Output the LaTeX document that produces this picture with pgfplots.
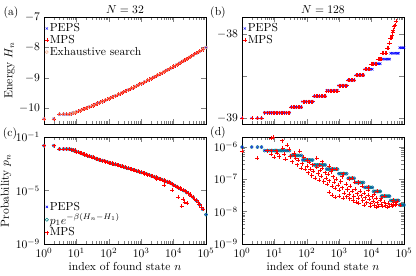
\documentclass[border=0pt]{standalone}
\usepackage{pgfplots}
\pgfplotsset{compat=1.18}
\usepackage{pgfplotstable}
\newlength\px
\setlength\px{0.86pt}
\definecolor{cpeps}{rgb}{0,0,1}
\definecolor{cmps}{rgb}{1,0,0}
\definecolor{cthy}{rgb}{0,0.5,0.5}
\definecolor{cexs}{rgb}{0.95,0.65,0.5}

\pgfplotstableread{
n E p
1 -10.35 2.24e-2
2 -10.35 2.24e-2
3 -10.20 1.26e-2
4 -10.20 1.26e-2
5 -10.20 1.26e-2
6 -10.20 1.26e-2
7 -10.18 1.15e-2
8 -10.15 1.0e-2
9 -10.15 1.0e-2
10 -10.12 7.94e-3
13 -10.08 6.61e-3
16 -10.04 5.37e-3
20 -10.00 4.47e-3
25 -9.955 3.63e-3
32 -9.912 3.02e-3
40 -9.868 2.45e-3
50 -9.824 2.04e-3
63 -9.779 1.70e-3
79 -9.734 1.45e-3
100 -9.688 1.23e-3
126 -9.641 1.05e-3
158 -9.593 8.91e-4
200 -9.545 7.59e-4
251 -9.496 6.31e-4
316 -9.447 5.37e-4
398 -9.397 4.57e-4
501 -9.346 3.80e-4
631 -9.295 3.24e-4
794 -9.243 2.69e-4
1000 -9.190 2.24e-4
1259 -9.137 1.86e-4
1585 -9.083 1.55e-4
1995 -9.029 1.29e-4
2512 -8.973 1.05e-4
3162 -8.917 8.51e-5
3981 -8.861 6.92e-5
5012 -8.804 5.62e-5
6310 -8.746 4.57e-5
7943 -8.688 3.63e-5
10000 -8.628 2.51e-5
12589 -8.569 1.91e-5
15849 -8.508 1.41e-5
19953 -8.447 1.02e-5
25119 -8.386 7.24e-6
31623 -8.323 5.01e-6
39811 -8.261 3.16e-6
50119 -8.197 1.78e-6
63096 -8.133 8.91e-7
79433 -8.069 3.98e-7
100000 -8.002 1.58e-7
}\tabA

\pgfplotstableread{
n E p
1 -10.35 2.24e-2
2 -10.35 2.24e-2
3 -10.20 1.26e-2
4 -10.20 1.26e-2
5 -10.20 1.26e-2
6 -10.20 1.26e-2
7 -10.18 1.15e-2
8 -10.15 1.0e-2
9 -10.15 1.0e-2
10 -10.12 7.94e-3
11 -10.10 7.2e-3
13 -10.08 6.61e-3
14 -10.06 5.9e-3
16 -10.04 5.37e-3
18 -10.02 4.9e-3
20 -10.00 4.47e-3
22 -9.98 4.0e-3
25 -9.955 3.63e-3
28 -9.93 3.3e-3
32 -9.912 3.02e-3
36 -9.89 2.7e-3
40 -9.868 2.45e-3
45 -9.846 2.25e-3
50 -9.824 2.04e-3
56 -9.80 1.86e-3
63 -9.779 1.70e-3
71 -9.756 1.57e-3
79 -9.734 1.45e-3
89 -9.711 1.33e-3
100 -9.688 1.23e-3
112 -9.665 1.14e-3
126 -9.641 1.05e-3
141 -9.617 9.7e-4
158 -9.593 8.91e-4
178 -9.569 8.2e-4
200 -9.545 7.59e-4
224 -9.52 6.9e-4
251 -9.496 6.31e-4
282 -9.47 5.8e-4
316 -9.447 5.37e-4
355 -9.42 4.95e-4
398 -9.397 4.57e-4
447 -9.37 4.15e-4
501 -9.346 3.80e-4
562 -9.32 3.5e-4
631 -9.295 3.24e-4
708 -9.27 2.95e-4
794 -9.243 2.69e-4
891 -9.216 2.45e-4
1000 -9.190 2.24e-4
1122 -9.163 2.04e-4
1259 -9.137 1.86e-4
1413 -9.11 1.70e-4
1585 -9.083 1.55e-4
1778 -9.056 1.41e-4
1995 -9.029 1.29e-4
2239 -9.00 1.17e-4
2512 -8.973 1.05e-4
2818 -8.945 9.5e-5
3162 -8.917 8.51e-5
3548 -8.89 7.7e-5
3981 -8.861 6.92e-5
4467 -8.83 6.2e-5
5012 -8.804 5.62e-5
5623 -8.775 5.1e-5
6310 -8.746 4.57e-5
7079 -8.717 4.05e-5
7943 -8.688 3.63e-5
8913 -8.66 3.0e-5
10000 -8.628 2.51e-5
11220 -8.60 2.2e-5
12589 -8.569 1.91e-5
14125 -8.54 1.65e-5
15849 -8.508 1.41e-5
17783 -8.48 1.2e-5
19953 -8.447 1.02e-5
22387 -8.42 8.6e-6
25119 -8.386 7.24e-6
28184 -8.355 6.0e-6
31623 -8.323 5.01e-6
35481 -8.29 4.0e-6
39811 -8.261 3.16e-6
44668 -8.23 2.4e-6
50119 -8.197 1.78e-6
56234 -8.165 1.3e-6
63096 -8.133 8.91e-7
70795 -8.10 6.0e-7
79433 -8.069 3.98e-7
3000 -8.93 7.0e-5
5000 -8.80 2.6e-5
9000 -8.66 1.1e-5
14000 -8.54 3.2e-6
17800 -8.48 6.5e-7
20000 -8.45 2.4e-6
22000 -8.42 1.4e-6
26000 -8.38 1.2e-6
}\tabAm

\pgfplotstableread{
n E p
1 -39.0 9.8e-7
2 -39.0 9.8e-7
3 -39.0 9.8e-7
4 -39.0 9.8e-7
5 -38.936 7.6e-7
6 -38.936 7.6e-7
7 -38.936 7.6e-7
8 -38.936 7.6e-7
9 -38.936 7.6e-7
10 -38.936 7.6e-7
11 -38.936 7.6e-7
12 -38.936 7.6e-7
14 -38.936 7.6e-7
16 -38.936 7.6e-7
18 -38.936 7.6e-7
20 -38.936 7.6e-7
23 -38.936 7.6e-7
26 -38.936 7.6e-7
29 -38.936 7.6e-7
33 -38.87 5.4e-7
37 -38.87 5.4e-7
42 -38.87 5.4e-7
47 -38.87 5.4e-7
53 -38.87 5.4e-7
60 -38.87 5.4e-7
68 -38.87 5.4e-7
75 -38.805 3.9e-7
85 -38.805 3.9e-7
95 -38.805 3.9e-7
107 -38.805 3.9e-7
120 -38.805 3.9e-7
135 -38.805 3.9e-7
152 -38.805 3.9e-7
170 -38.74 2.75e-7
190 -38.74 2.75e-7
215 -38.74 2.75e-7
240 -38.74 2.75e-7
270 -38.74 2.75e-7
300 -38.74 2.75e-7
335 -38.74 2.75e-7
370 -38.74 2.75e-7
410 -38.675 2.04e-7
460 -38.675 2.04e-7
515 -38.675 2.04e-7
575 -38.675 2.04e-7
645 -38.675 2.04e-7
720 -38.675 2.04e-7
800 -38.675 2.04e-7
890 -38.675 2.04e-7
980 -38.615 1.48e-7
1090 -38.615 1.48e-7
1210 -38.615 1.48e-7
1350 -38.615 1.48e-7
1500 -38.615 1.48e-7
1700 -38.615 1.48e-7
1900 -38.55 1.07e-7
2100 -38.55 1.07e-7
2350 -38.55 1.07e-7
2600 -38.55 1.07e-7
2900 -38.55 1.07e-7
3300 -38.49 7.9e-8
3700 -38.49 7.9e-8
4100 -38.49 7.9e-8
4600 -38.49 7.9e-8
5100 -38.49 7.9e-8
5600 -38.49 7.9e-8
6200 -38.42 5.6e-8
6900 -38.42 5.6e-8
7700 -38.42 5.6e-8
8600 -38.42 5.6e-8
9500 -38.42 5.6e-8
10500 -38.42 5.6e-8
11500 -38.355 4.2e-8
12700 -38.355 4.2e-8
14000 -38.355 4.2e-8
15500 -38.355 4.2e-8
17000 -38.355 4.2e-8
18500 -38.355 4.2e-8
20000 -38.30 3.0e-8
22000 -38.30 3.0e-8
24500 -38.30 3.0e-8
27000 -38.30 3.0e-8
30000 -38.30 3.0e-8
33000 -38.30 3.0e-8
36000 -38.30 3.0e-8
39000 -38.23 2.2e-8
43000 -38.23 2.2e-8
47000 -38.23 2.2e-8
52000 -38.23 2.2e-8
57000 -38.23 2.2e-8
63000 -38.23 2.2e-8
68000 -38.23 2.2e-8
74000 -38.165 1.6e-8
80000 -38.165 1.6e-8
86000 -38.165 1.6e-8
93000 -38.165 1.6e-8
100000 -38.165 1.6e-8
}\tabB

\pgfplotstableread{
n E
1 -39.0
2 -39.0
3 -39.0
4 -39.0
5 -38.936
6 -38.936
7 -38.936
8 -38.936
9 -38.936
10 -38.936
11 -38.936
12 -38.936
14 -38.936
16 -38.936
18 -38.936
20 -38.936
23 -38.936
26 -38.936
29 -38.936
33 -38.87
37 -38.87
42 -38.87
47 -38.87
53 -38.87
60 -38.87
68 -38.87
75 -38.805
85 -38.805
95 -38.805
107 -38.805
120 -38.805
135 -38.805
152 -38.805
170 -38.74
190 -38.74
215 -38.74
240 -38.74
270 -38.74
300 -38.74
335 -38.74
370 -38.74
410 -38.675
460 -38.675
515 -38.675
575 -38.675
645 -38.675
720 -38.675
800 -38.675
890 -38.675
980 -38.615
1090 -38.615
1210 -38.615
1350 -38.615
1500 -38.615
1700 -38.615
1900 -38.55
2100 -38.55
2350 -38.55
2600 -38.55
2900 -38.55
3300 -38.49
3700 -38.49
4100 -38.49
4600 -38.49
5100 -38.49
5600 -38.49
6200 -38.42
6900 -38.42
7700 -38.42
8600 -38.42
9500 -38.355
10500 -38.355
11500 -38.355
12700 -38.355
14000 -38.355
15500 -38.30
17000 -38.30
18500 -38.30
20000 -38.30
21500 -38.23
23500 -38.23
25500 -38.23
27500 -38.23
30000 -38.165
32500 -38.165
34000 -38.107
36000 -38.107
38000 -38.05
40000 -38.047
42000 -38.02
44500 -37.98
47000 -37.96
50000 -37.913
53000 -37.90
56000 -37.85
}\tabBm

\pgfplotstableread{
n p
1 7.5e-7
3 4.5e-7
6 7.6e-7
8 7.6e-7
11 7.6e-7
8 1.85e-6
9 2.0e-6
17 1.55e-6
18 9e-7
8 5.8e-7
10 4.7e-7
12 6.5e-7
14 5.0e-7
20 6.0e-7
22 4.2e-7
25 1.1e-6
28 8.5e-7
30 5.0e-7
35 3.5e-7
40 5.4e-7
40 6.5e-7
45 4.5e-7
50 2.8e-7
55 3.8e-7
60 7.5e-7
65 2.2e-7
70 3.0e-7
80 4.8e-7
90 2.0e-7
100 3.9e-7
100 2.6e-7
110 1.6e-7
120 3.3e-7
130 2.1e-7
140 1.3e-7
150 2.8e-7
160 1.8e-7
180 1.1e-7
200 2.4e-7
200 4.5e-7
220 1.5e-7
240 9.5e-8
250 2.75e-7
260 1.9e-7
280 1.25e-7
300 2.2e-7
300 3.5e-7
330 8.5e-8
360 1.6e-7
400 1.1e-7
430 7.0e-8
460 1.4e-7
500 9.0e-8
500 4.0e-8
500 2.6e-7
550 1.7e-7
600 6.0e-8
600 3.2e-8
600 2.04e-7
650 1.2e-7
700 8.0e-8
750 5.2e-8
750 2.8e-8
800 1.0e-7
800 2.0e-7
900 6.5e-8
1000 4.5e-8
1000 3.0e-8
1100 8.5e-8
1200 1.2e-7
1250 5.5e-8
1300 2.6e-8
1300 1.48e-7
1400 3.8e-8
1600 7.0e-8
1700 2.9e-8
1800 4.8e-8
2000 3.4e-8
2000 1.0e-7
2100 2.5e-8
2200 6.0e-8
2500 4.2e-8
2500 1.07e-7
2700 2.2e-8
2800 3.0e-8
3000 8e-8
3100 5.0e-8
3300 2.0e-8
3500 3.6e-8
3900 2.6e-8
4000 1.8e-8
4000 7.9e-8
4300 4.4e-8
4800 3.1e-8
5000 6e-8
5300 2.2e-8
5800 3.8e-8
6000 1.6e-8
6400 2.7e-8
7000 1.9e-8
7700 3.3e-8
8000 4.5e-8
8000 5.6e-8
8500 2.4e-8
9000 1.5e-8
9300 1.75e-8
10200 2.9e-8
11200 2.1e-8
12000 3.5e-8
12300 1.6e-8
13500 2.6e-8
14000 1.35e-8
15000 1.9e-8
15000 4.2e-8
16500 1.5e-8
18000 2.3e-8
20000 1.7e-8
20000 2.6e-8
22000 1.45e-8
24500 2.0e-8
25000 3.0e-8
27000 1.6e-8
30000 1.4e-8
33000 1.8e-8
36000 1.5e-8
40000 1.65e-8
44000 1.45e-8
45000 2.2e-8
48000 1.9e-8
52000 1.55e-8
57000 1.7e-8
62000 2.1e-8
75000 1.6e-8
}\tabDm

\pgfplotsset{
  mk/.style={only marks, legend image code/.code={\draw[mark repeat=2,mark phase=2,##1] plot coordinates {(0cm,0cm) (0.08cm,0cm) (0.16cm,0cm)};}},
  peps/.style={mk, mark=x, color=cpeps, mark size=1.4pt, line width=0.38pt},
  mps/.style={mk, mark=+, color=cmps, mark size=1.75pt, line width=0.38pt},
  exs/.style={mk, mark=o, color=cexs, mark size=1.3pt, line width=0.38pt},
  thy/.style={mk, mark=o, color=cthy, mark size=1.4pt, line width=0.38pt},
  every axis/.append style={scale only axis, width=162\px, height=107\px,
    anchor=south west, xmode=log, xmin=1, xmax=1e5, log basis x=10,
    legend cell align=left,
    title style={yshift=-6.5pt},
    xlabel shift=-2.5pt, ylabel shift=-3pt,
    legend style={draw=none, fill=none, inner sep=0.5pt, row sep=0pt, nodes={inner sep=0.8pt}}},
}

\begin{document}
\begin{tikzpicture}
\path[use as bounding box] (0,0) rectangle (416\px,275\px);

% (a)
\begin{axis}[at={(44\px,151\px)}, ymin=-10.52, ymax=-7, ytick={-10,-9,-8,-7},
  xticklabel=\empty, title={$N=32$}, ylabel={Energy $H_n$},
  legend style={at={(0.0,0.955)}, anchor=north west}]
\addplot[peps] table[x=n,y=E]{\tabA};
\addplot[mps] table[x=n,y=E]{\tabAm};
\addplot[exs] table[x=n,y=E]{\tabA};
\legend{PEPS,MPS,Exhaustive search}
\end{axis}

% (b)
\begin{axis}[at={(242\px,151\px)}, ymin=-39.07, ymax=-37.8, ytick={-39,-38.5,-38},
  yticklabels={$-39$,,$-38$}, xticklabel=\empty, title={$N=128$},
  legend style={at={(0.0,0.955)}, anchor=north west}]
\addplot[peps] table[x=n,y=E]{\tabB};
\addplot[mps] table[x=n,y=E]{\tabBm};
\legend{PEPS,MPS}
\end{axis}

% (c)
\begin{axis}[at={(44\px,31\px)}, ymode=log, ymin=1e-9, ymax=1e-1, ytick={1e-9,1e-5,1e-1},
  xlabel={index of found state $n$}, ylabel={Probability $p_n$},
  legend style={at={(0.0,0.41)}, anchor=north west}]
\addplot[peps] table[x=n,y=p]{\tabA};
\addplot[thy] table[x=n,y=p]{\tabA};
\addplot[mps] table[x=n,y=p]{\tabAm};
\legend{PEPS,{$p_1e^{-\beta(H_n-H_1)}$},MPS}
\end{axis}

% (d)
\begin{axis}[at={(242\px,31\px)}, ymode=log, ymin=1e-9, ymax=2e-6,
  ytick={1e-9,1e-8,1e-7,1e-6}, xlabel={index of found state $n$}]
\addplot[peps] table[x=n,y=p]{\tabB};
\addplot[thy] table[x=n,y=p]{\tabB};
\addplot[mps] table[x=n,y=p]{\tabDm};
\end{axis}

\node at (10\px,141\px) {(c)};
\node at (11\px,262\px) {(a)};
\node at (218\px,262\px) {(b)};
\node at (218\px,142\px) {(d)};
\end{tikzpicture}
\end{document}
